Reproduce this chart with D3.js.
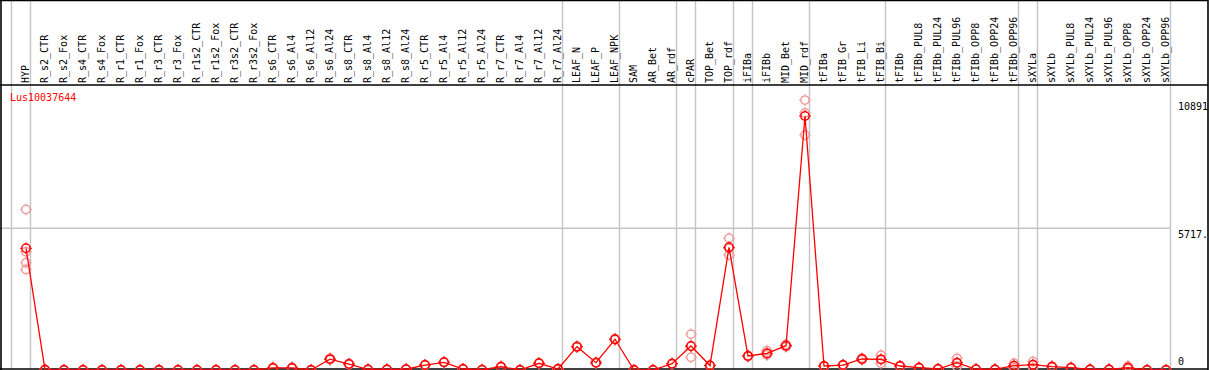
<!DOCTYPE html>
<html lang="en">
<head>
<meta charset="utf-8">
<title>Lus10037644 expression</title>
<script src="https://d3js.org/d3.v7.min.js"></script>
<style type="text/css">
body { margin: 0; background: #fff; }
text { font-family: "DejaVu Sans Mono", monospace; font-size: 10px; }
</style>
</head>
<body>
<script type="text/javascript">

// sample names, in plotting order
const samples = ["HYP", "R_s2_CTR", "R_s2_Fox", "R_s4_CTR", "R_s4_Fox", "R_r1_CTR", "R_r1_Fox",
  "R_r3_CTR", "R_r3_Fox", "R_r1s2_CTR", "R_r1s2_Fox", "R_r3s2_CTR", "R_r3s2_Fox", "R_s6_CTR",
  "R_s6_Al4", "R_s6_Al12", "R_s6_Al24", "R_s8_CTR", "R_s8_Al4", "R_s8_Al12", "R_s8_Al24",
  "R_r5_CTR", "R_r5_Al4", "R_r5_Al12", "R_r5_Al24", "R_r7_CTR", "R_r7_Al4", "R_r7_Al12", "R_r7_Al24",
  "LEAF_N", "LEAF_P", "LEAF_NPK", "SAM", "AR_Bet", "AR_rdf", "cPAR", "TOP_Bet", "TOP_rdf",
  "iFIBa", "iFIBb", "MID_Bet", "MID_rdf", "tFIBa", "tFIB_Gr", "tFIB_Li", "tFIB_Bi", "tFIBb",
  "tFIBb_PUL8", "tFIBb_PUL24", "tFIBb_PUL96", "tFIBb_OPP8", "tFIBb_OPP24", "tFIBb_OPP96",
  "sXYLa", "sXYLb", "sXYLb_PUL8", "sXYLb_PUL24", "sXYLb_PUL96", "sXYLb_OPP8", "sXYLb_OPP24", "sXYLb_OPP96"];

// last sample of each tissue group (a grey separator follows it)
const groupEnds = ["HYP", "R_r7_Al24", "LEAF_NPK", "AR_rdf", "cPAR", "TOP_rdf", "iFIBa",
  "MID_rdf", "tFIB_Bi", "tFIBb_OPP96", "sXYLa", "sXYLb_OPP96"];

// mean expression per sample
const means = [4910, 10, 0, 0, 0, 0, 0, 0, 0, 0, 0, 0, 0, 85, 85, 0, 440, 240, 20, 20, 30,
  200, 310, 40, 10, 130, 0, 270, 40, 940, 295, 1240, 0, 0, 254, 968, 180, 4950,
  565, 674, 980, 10249, 161, 200, 444, 430, 161, 93, 40, 295, 30, 20, 175,
  215, 135, 93, 20, 20, 90, 0, 0];

// individual replicates per sample
const replicates = [[6480, 4770, 4330, 4060], [30, 0, 0], [0, 0, 0], [0, 0, 0], [0, 0, 0],
  [0, 0, 0], [0, 0, 0], [0, 0, 0], [0, 0, 0], [0, 0, 0], [0, 0, 0], [0, 0, 0], [0, 0, 0],
  [95, 70, 90], [110, 60, 85], [0, 0, 0], [470, 420, 430], [260, 220, 240], [20, 20, 20],
  [20, 20, 20], [30, 30, 30], [210, 190, 200], [320, 300, 310], [40, 40, 40], [10, 10, 10],
  [140, 120, 130], [0, 0, 0], [280, 260, 270], [40, 40, 40], [960, 920, 940], [300, 290, 295],
  [1260, 1220, 1240], [0, 0, 0], [0, 0, 0], [260, 250, 254], [1440, 950, 512], [190, 170, 180],
  [5314, 4900, 4640], [590, 560, 545], [780, 620, 620], [1040, 960, 940], [10891, 10374, 9482],
  [170, 150, 161], [210, 190, 200], [480, 430, 420], [600, 420, 270], [170, 150, 161],
  [100, 90, 90], [40, 40, 40], [470, 280, 135], [30, 30, 30], [20, 20, 20], [270, 170, 85],
  [340, 210, 95], [150, 120, 135], [100, 90, 90], [20, 20, 20], [20, 20, 20], [160, 60, 50],
  [0, 0, 0], [0, 0, 0]];

const geneId = "Lus10037644";
const yTicks = [{v: 10891, label: "10891"}, {v: 5717.5, label: "5717."}, {v: 0, label: "0"}];

const width = 1209, height = 370;
const headerY = 85, bottomY = 369, rightX = 1208, axisX = 1170;

var x = d3.scalePoint().domain(samples).range([26, 1166]);
var step = x.step();
var y = d3.scaleLinear().domain([0, 5717.5]).range([370, 228.3]);

var svg = d3.select("body").append("svg")
    .attr("width", width)
    .attr("height", height);

// grey separators between tissue groups
var seps = [x(samples[0]) - step].concat(groupEnds.map(function(s) { return x(s); }));
svg.append("g").selectAll("line")
  .data(seps)
  .enter().append("line")
    .attr("x1", function(d) { return d + 4.5; })
    .attr("x2", function(d) { return d + 4.5; })
    .attr("y1", 0).attr("y2", bottomY)
    .attr("stroke", "#c4c4c4")
    .attr("stroke-width", 1.4);

// mid grid line
svg.append("line")
    .attr("x1", 0).attr("x2", axisX)
    .attr("y1", y(5717.5)).attr("y2", y(5717.5))
    .attr("stroke", "#c4c4c4")
    .attr("stroke-width", 1.4);

// frame
var frame = svg.append("g").attr("stroke", "#000").attr("stroke-width", 1.6);
frame.append("line").attr("x1", 0).attr("x2", rightX).attr("y1", 0.5).attr("y2", 0.5);
frame.append("line").attr("x1", 0).attr("x2", rightX).attr("y1", headerY).attr("y2", headerY);
frame.append("line").attr("x1", 0).attr("x2", rightX).attr("y1", bottomY).attr("y2", bottomY);
frame.append("line").attr("x1", 1).attr("x2", 1).attr("y1", 0).attr("y2", height);
frame.append("line").attr("x1", rightX).attr("x2", rightX).attr("y1", 0).attr("y2", height);

// rotated sample names
svg.append("g").selectAll("text")
  .data(samples)
  .enter().append("text")
    .attr("transform", function(d) { return "translate(" + (x(d) + 2.5) + "," + 83 + ") rotate(-90)"; })
    .attr("fill", "#000")
    .text(function(d) { return d; });

svg.append("text")
    .attr("x", 10).attr("y", 101)
    .attr("fill", "#f00")
    .text(geneId);

// value labels on the right
svg.append("g").selectAll("text")
  .data(yTicks)
  .enter().append("text")
    .attr("x", 1178)
    .attr("y", function(d) { return d.v === 0 ? 365 : y(d.v) + 10; })
    .attr("fill", "#000")
    .text(function(d) { return d.label; });

function marker(g, color) {
  g.append("circle").attr("r", 4.2).attr("fill", "none").attr("stroke", color).attr("stroke-width", 1.5);
  g.append("path").attr("d", "M0,-4.5V-6M0,4.5V6M-4.5,0H-6M4.5,0H6").attr("stroke", color).attr("stroke-width", 1);
}

// replicates
var repData = [];
samples.forEach(function(s, i) {
  replicates[i].forEach(function(v) { repData.push({s: s, v: v}); });
});
svg.append("g").selectAll("g")
  .data(repData)
  .enter().append("g")
    .attr("transform", function(d) { return "translate(" + x(d.s) + "," + y(d.v) + ")"; })
    .each(function() { marker(d3.select(this), "#f09c9c"); });

// mean line
var line = d3.line()
    .x(function(d, i) { return x(samples[i]); })
    .y(function(d) { return y(d); });

svg.append("path")
    .datum(means)
    .attr("d", line)
    .attr("fill", "none")
    .attr("stroke", "#f00")
    .attr("stroke-width", 1.3);

svg.append("g").selectAll("g")
  .data(means)
  .enter().append("g")
    .attr("transform", function(d, i) { return "translate(" + x(samples[i]) + "," + y(d) + ")"; })
    .each(function() { marker(d3.select(this), "#f00"); });

</script>
</body>
</html>
